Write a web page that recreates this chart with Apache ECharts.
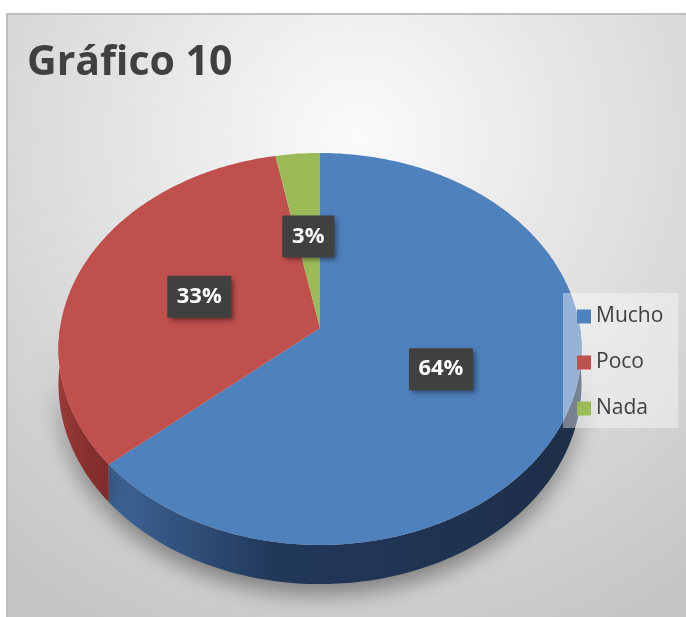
<!DOCTYPE html>
<html>
<head>
<meta charset="utf-8">
<title>Gráfico 10</title>
<script src="https://cdn.jsdelivr.net/npm/echarts@6/dist/echarts.min.js"></script>
<style>
    body { margin: 0; background: #fff; }
    #chart { width: 686px; height: 617px; }
</style>
</head>
<body>
<div id="chart"></div>
<script>
    // datos del gráfico
    const categories = ['Mucho', 'Poco', 'Nada'];
    const values = [21, 11, 1];
    const colors = ['#4f81bd', '#c0504d', '#9bbb59'];
    const sideColors = [
        ['#3e6597', '#22385a', '#1d2e48'],
        ['#9a3b39', '#8c3331', '#7d2c2a'],
        ['#7a9444', '#6d863b', '#627a34']
    ];

    // geometría de la tarta 3D (perspectiva sencilla)
    const CX = 320, CY = 328, RX = 260, RY = 193.7, P = 0.107, H = 35;
    const total = values.reduce((a, b) => a + b, 0);

    function proj(theta, f, drop) {
        const u = f * Math.sin(theta), v = f * Math.cos(theta);
        const s = 1 / (1 + P * v);
        return [CX + RX * u * s, CY - RY * v * s + drop * s];
    }

    function arc(a0, a1, f, drop) {
        const pts = [];
        const n = Math.max(2, Math.ceil((a1 - a0) / (Math.PI / 180)));
        for (let k = 0; k <= n; k++) {
            pts.push(proj(a0 + (a1 - a0) * k / n, f, drop));
        }
        return pts;
    }

    function renderSlice(i, value) {
        let start = 0;
        for (let k = 0; k < i; k++) start += values[k];
        const a0 = start / total * Math.PI * 2;
        const a1 = (start + value) / total * Math.PI * 2;
        const children = [];

        // cara lateral visible (mitad delantera)
        const b0 = Math.max(a0, Math.PI / 2), b1 = Math.min(a1, Math.PI * 1.5);
        if (b1 > b0) {
            const top = arc(b0, b1, 1, 0);
            const bottom = arc(b0, b1, 1, H).reverse();
            children.push({
                type: 'polygon',
                z2: 1,
                shape: { points: top.concat(bottom) },
                style: {
                    fill: {
                        type: 'linear', x: 0, y: 0, x2: 1, y2: 0,
                        colorStops: [
                            { offset: 0, color: sideColors[i][0] },
                            { offset: 0.35, color: sideColors[i][1] },
                            { offset: 1, color: sideColors[i][2] }
                        ]
                    },
                    shadowBlur: 22,
                    shadowOffsetY: 10,
                    shadowColor: 'rgba(0,0,0,0.4)'
                }
            });
        }

        // cara superior
        children.push({
            type: 'polygon',
            z2: 10,
            shape: { points: [proj(0, 0, 0)].concat(arc(a0, a1, 1, 0)) },
            style: { fill: colors[i] }
        });

        // etiqueta de porcentaje
        const text = Math.round(value / total * 100) + '%';
        const c = proj((a0 + a1) / 2, 0.5, 0);
        const w = text.length * 12 + 28, h = 42;
        children.push({
            type: 'rect',
            z2: 20,
            shape: { x: c[0] - w / 2, y: c[1] - h / 2, width: w, height: h },
            style: {
                fill: '#404040',
                shadowBlur: 5,
                shadowOffsetX: 3,
                shadowOffsetY: 3,
                shadowColor: 'rgba(0,0,0,0.45)'
            }
        });
        children.push({
            type: 'text',
            z2: 21,
            style: {
                text: text,
                x: c[0],
                y: c[1],
                align: 'center',
                verticalAlign: 'middle',
                fill: '#ffffff',
                font: 'bold 22px "Open Sans", sans-serif'
            }
        });
        return { type: 'group', children: children };
    }

    const chart = echarts.init(document.getElementById('chart'));

    const option = {
        animation: false,
        graphic: [{
            type: 'rect',
            z: -10,
            shape: { x: 7, y: 14, width: 700, height: 620 },
            style: {
                fill: {
                    type: 'radial', x: 0.5, y: 0.2, r: 0.9,
                    colorStops: [
                        { offset: 0, color: '#fbfbfb' },
                        { offset: 1, color: '#c4c4c4' }
                    ]
                },
                stroke: '#bfbfbf',
                lineWidth: 2
            }
        }],
        title: {
            text: 'Gráfico 10',
            left: 22,
            top: 38,
            textStyle: {
                fontFamily: 'Open Sans',
                fontWeight: 'bold',
                fontSize: 41,
                color: '#404040'
            }
        },
        legend: {
            orient: 'vertical',
            left: 563,
            top: 293,
            padding: [13, 15, 9, 14],
            itemGap: 25,
            itemWidth: 14,
            itemHeight: 14,
            icon: 'rect',
            backgroundColor: 'rgba(255,255,255,0.4)',
            textStyle: {
                fontFamily: 'Open Sans',
                fontSize: 21,
                lineHeight: 20,
                color: '#404040'
            },
            data: categories
        },
        series: categories.map((name, i) => ({
            type: 'custom',
            name: name,
            coordinateSystem: 'none',
            itemStyle: { color: colors[i] },
            data: [values[i]],
            renderItem: (params, api) => renderSlice(i, api.value(0))
        }))
    };

    chart.setOption(option);
</script>
</body>
</html>
